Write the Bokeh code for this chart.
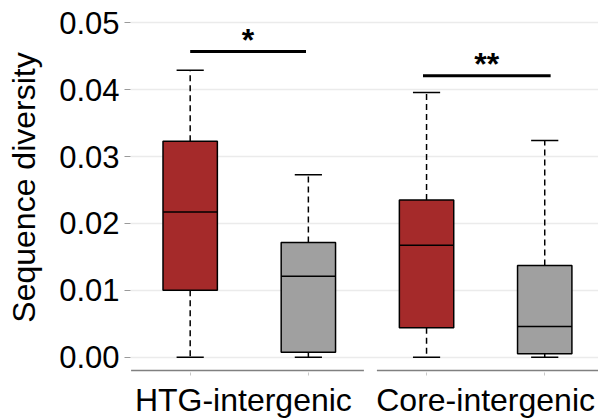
from bokeh.plotting import figure
from bokeh.models import Range1d, FixedTicker, ColumnDataSource
from bokeh.core.properties import value
from bokeh.embed import file_html
from bokeh.resources import INLINE

# Groups on the x axis and the four boxes (two per group)
groups = ["HTG-intergenic", "Core-intergenic"]
group_label_x = [1.45, 3.5]
box_x = [1, 2, 3, 4]
box_colors = ["#A52A2A", "#A0A0A0", "#A52A2A", "#A0A0A0"]

# Box statistics: whisker ends, quartiles and medians
whisker_low = [0.0, 0.0, 0.0, 0.0]
q1 = [0.0100, 0.00075, 0.0044, 0.0005]
median = [0.0217, 0.0121, 0.01675, 0.0046]
q3 = [0.0323, 0.01715, 0.0235, 0.0137]
whisker_high = [0.0429, 0.0273, 0.0396, 0.0324]

# Y axis ticks
y_ticks = [0.0, 0.01, 0.02, 0.03, 0.04, 0.05]
y_tick_labels = ["0.00", "0.01", "0.02", "0.03", "0.04", "0.05"]

# Significance annotations between the two boxes of each group
sig_labels = ["*", "**"]
sig_x0 = [1.0, 2.97]
sig_x1 = [1.98, 4.05]
sig_y = [0.0457, 0.0421]

FONT = "Liberation Sans"
BOX_W = 0.46
CAP_W = 0.23

p = figure(
    width=598, height=420,
    x_range=Range1d(0.495, 4.455),
    y_range=Range1d(-0.00229, 0.05304),
    output_backend="svg", toolbar_location=None,
    min_border_left=130, min_border_right=0,
    min_border_top=2, min_border_bottom=48,
)
p.outline_line_color = None
p.background_fill_color = "white"
p.border_fill_color = "white"

# Y axis
p.yaxis.ticker = FixedTicker(ticks=y_ticks)
p.yaxis.major_label_overrides = {t: s for t, s in zip(y_ticks, y_tick_labels)}
p.yaxis.axis_line_color = None
p.yaxis.major_tick_in = 0
p.yaxis.major_tick_out = 6
p.yaxis.major_tick_line_color = "#9A9A9A"
p.yaxis.minor_tick_line_color = None
p.yaxis.major_label_text_font = FONT
p.yaxis.major_label_text_font_size = "31px"
p.yaxis.major_label_text_color = "black"
p.yaxis.major_label_standoff = 5
p.yaxis.axis_label = "Sequence diversity"
p.yaxis.axis_label_text_font = FONT
p.yaxis.axis_label_text_font_size = "32px"
p.yaxis.axis_label_text_font_style = "normal"
p.yaxis.axis_label_text_color = "black"
p.yaxis.axis_label_standoff = 14

# X axis: group labels under each pair, small ticks under each box
p.xaxis.ticker = FixedTicker(ticks=group_label_x, minor_ticks=box_x)
p.xaxis.major_label_overrides = {c: g for c, g in zip(group_label_x, groups)}
p.xaxis.axis_line_color = None
p.xaxis.major_tick_line_color = None
p.xaxis.major_tick_in = 0
p.xaxis.major_tick_out = 0
p.xaxis.minor_tick_in = 0
p.xaxis.minor_tick_out = 3
p.xaxis.minor_tick_line_color = "#C8C8C8"
p.xaxis.major_label_text_font = FONT
p.xaxis.major_label_text_font_size = "32px"
p.xaxis.major_label_text_color = "black"
p.xaxis.major_label_standoff = 6

# Grid
p.xgrid.grid_line_color = None
p.ygrid.grid_line_color = "#EBEBEB"
p.ygrid.grid_line_width = 1.5

# Baseline under each group
p.segment(x0=[0.5, 2.58], y0=[-0.002, -0.002], x1=[2.47, 4.46], y1=[-0.002, -0.002],
          line_color="#808080", line_width=1.5)

src = ColumnDataSource(dict(
    x=box_x, color=box_colors, lo=whisker_low, q1=q1, med=median, q3=q3, hi=whisker_high,
    left=[x - BOX_W / 2 for x in box_x], right=[x + BOX_W / 2 for x in box_x],
    cl=[x - CAP_W / 2 for x in box_x], cr=[x + CAP_W / 2 for x in box_x],
))

# Whiskers (dashed) and caps
p.segment(x0="x", y0="q3", x1="x", y1="hi", source=src,
          line_color="black", line_width=1.5, line_dash="6 4")
p.segment(x0="x", y0="q1", x1="x", y1="lo", source=src,
          line_color="black", line_width=1.5, line_dash="6 4")
p.segment(x0="cl", y0="hi", x1="cr", y1="hi", source=src, line_color="black", line_width=1.5)
p.segment(x0="cl", y0="lo", x1="cr", y1="lo", source=src, line_color="black", line_width=1.5)

# Boxes and medians
p.quad(left="left", right="right", bottom="q1", top="q3", source=src,
       fill_color="color", line_color="black", line_width=1.5)
p.segment(x0="left", y0="med", x1="right", y1="med", source=src,
          line_color="black", line_width=1.5)

# Significance bars and stars
p.segment(x0=sig_x0, y0=sig_y, x1=sig_x1, y1=sig_y, line_color="black", line_width=3)
p.text(x=[(a + b) / 2 for a, b in zip(sig_x0, sig_x1)], y=sig_y, text=sig_labels,
       text_font=value(FONT), text_font_size="32px", text_font_style="bold",
       text_align="center", text_baseline="alphabetic", y_offset=-12, text_color="black")

open("out.html", "w").write(file_html(p, INLINE))
